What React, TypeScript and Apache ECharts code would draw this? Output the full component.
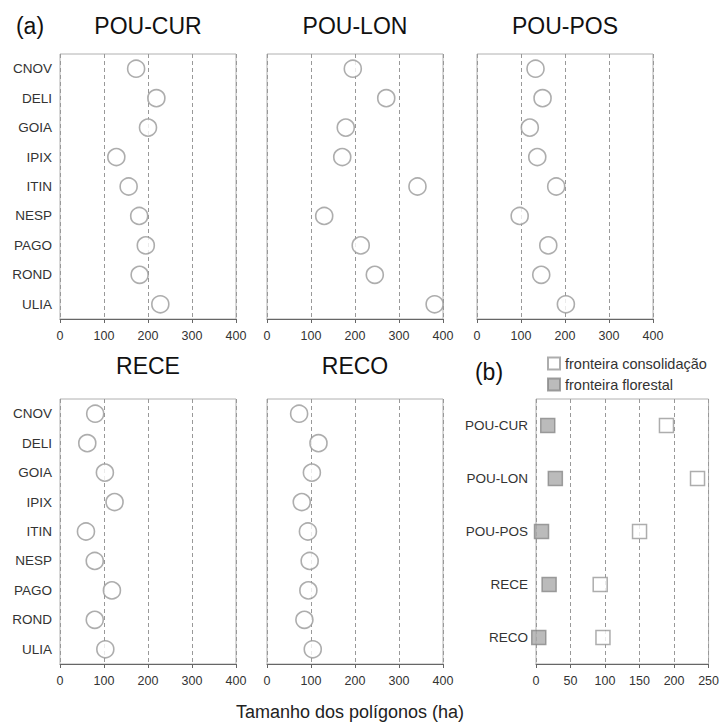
import React, { useEffect, useRef } from "react";
import * as echarts from "echarts";

const regions = ["CNOV", "DELI", "GOIA", "IPIX", "ITIN", "NESP", "PAGO", "ROND", "ULIA"];
const panelTitles = ["POU-CUR", "POU-LON", "POU-POS", "RECE", "RECO"];

const pouCur = [173, 219, 200, 128, 156, 180, 195, 181, 228];
const pouLon = [195, 271, 179, 171, 342, 130, 213, 245, 381];
const pouPos = [133, 149, 120, 137, 180, 97, 162, 146, 202];
const rece = [80, 62, 102, 124, 59, 79, 118, 79, 103];
const reco = [73, 117, 102, 79, 93, 97, 94, 85, 104];

const frontierCats = ["POU-CUR", "POU-LON", "POU-POS", "RECE", "RECO"];
const consolidacao = [189, 234, 150, 93, 97];
const florestal = [17, 28, 8, 19, 4];

const xTicksA = { min: 0, max: 400, interval: 100 };
const xTicksB = { min: 0, max: 250, interval: 50 };

const FONT = "Liberation Sans, Arial, sans-serif";

export default function App() {
  const ref = useRef<HTMLDivElement>(null);
  useEffect(() => {
    if (!ref.current) return;
    const chart = echarts.init(ref.current, null, { renderer: "svg" });
    const gridPos = [
      { left: 60, top: 54, width: 176, height: 265 },
      { left: 267, top: 54, width: 176, height: 265 },
      { left: 477, top: 54, width: 176, height: 265 },
      { left: 60, top: 399, width: 176, height: 265 },
      { left: 267, top: 399, width: 176, height: 265 },
      { left: 536, top: 399, width: 175, height: 265 },
    ];
    const grids = gridPos.map((g) => ({
      ...g,
      show: true,
      borderColor: "#b0b0b0",
      borderWidth: 1,
      backgroundColor: "transparent",
    }));
    const dataA = [pouCur, pouLon, pouPos, rece, reco];
    const xAxes: any[] = [];
    const yAxes: any[] = [];
    const series: any[] = [];
    const showY = [true, false, false, true, false];
    const mkX = (i: number, t: any) => ({
      type: "value",
      gridIndex: i,
      min: t.min,
      max: t.max,
      interval: t.interval,
      axisLine: { show: true, lineStyle: { color: "#666" } },
      axisTick: { show: true, length: 4, lineStyle: { color: "#666" } },
      axisLabel: { color: "#333", fontSize: 12.5, fontFamily: FONT, margin: 10 },
      splitLine: { show: true, lineStyle: { color: "#999", type: [4, 3], width: 1 } },
    });
    const catLabel = { color: "#333", fontSize: 13.5, fontFamily: FONT, margin: 8 };
    for (let i = 0; i < 5; i++) {
      xAxes.push(mkX(i, xTicksA));
      yAxes.push({
        type: "category",
        gridIndex: i,
        data: regions,
        inverse: true,
        axisLine: { show: false },
        axisTick: { show: false },
        axisLabel: { show: showY[i], ...catLabel },
        splitLine: { show: false },
      });
      series.push({
        type: "scatter",
        xAxisIndex: i,
        yAxisIndex: i,
        data: dataA[i],
        symbol: "circle",
        symbolSize: 17,
        itemStyle: { color: "#fff", borderColor: "#999", borderWidth: 1.6 },
      });
    }
    xAxes.push(mkX(5, xTicksB));
    yAxes.push({
      type: "category",
      gridIndex: 5,
      data: frontierCats,
      inverse: true,
      axisLine: { show: false },
      axisTick: { show: false },
      axisLabel: catLabel,
      splitLine: { show: false },
    });
    series.push({
      name: "fronteira consolidação",
      type: "scatter",
      xAxisIndex: 5,
      yAxisIndex: 5,
      data: consolidacao,
      symbol: "rect",
      symbolSize: 14,
      itemStyle: { color: "#fff", borderColor: "#999", borderWidth: 1.5 },
    });
    series.push({
      name: "fronteira florestal",
      type: "scatter",
      xAxisIndex: 5,
      yAxisIndex: 5,
      data: florestal,
      symbol: "rect",
      symbolSize: 14,
      itemStyle: { color: "#aaa", borderColor: "#888", borderWidth: 1.5 },
    });

    const titlePos = [
      [148, 26],
      [355, 26],
      [565, 26],
      [148, 366],
      [355, 366],
    ];
    const graphics: any[] = panelTitles.map((t, i) => ({
      type: "text",
      x: titlePos[i][0],
      y: titlePos[i][1],
      style: {
        text: t,
        fontSize: 23,
        fontFamily: FONT,
        fill: "#111",
        align: "center",
        verticalAlign: "middle",
      },
    }));
    graphics.push({
      type: "text",
      x: 30,
      y: 26,
      style: { text: "(a)", fontSize: 23, fontFamily: FONT, fill: "#111", align: "center", verticalAlign: "middle" },
    });
    graphics.push({
      type: "text",
      x: 489,
      y: 372,
      style: { text: "(b)", fontSize: 23, fontFamily: FONT, fill: "#111", align: "center", verticalAlign: "middle" },
    });
    graphics.push({
      type: "text",
      x: 350,
      y: 712,
      style: {
        text: "Tamanho dos polígonos (ha)",
        fontSize: 18,
        fontFamily: FONT,
        fill: "#222",
        align: "center",
        verticalAlign: "middle",
      },
    });

    chart.setOption({
      animation: false,
      backgroundColor: "#fff",
      grid: grids,
      xAxis: xAxes,
      yAxis: yAxes,
      series,
      legend: {
        orient: "vertical",
        left: 542,
        top: 351,
        itemWidth: 12,
        itemHeight: 12,
        itemGap: 6,
        icon: "rect",
        textStyle: { fontSize: 14.5, fontFamily: FONT, color: "#333" },
        data: ["fronteira consolidação", "fronteira florestal"],
      },
      graphic: graphics,
    });
    return () => chart.dispose();
  }, []);
  return (
    <div
      ref={ref}
      style={{ position: "fixed", left: 0, top: 0, width: 722, height: 725 }}
    />
  );
}
